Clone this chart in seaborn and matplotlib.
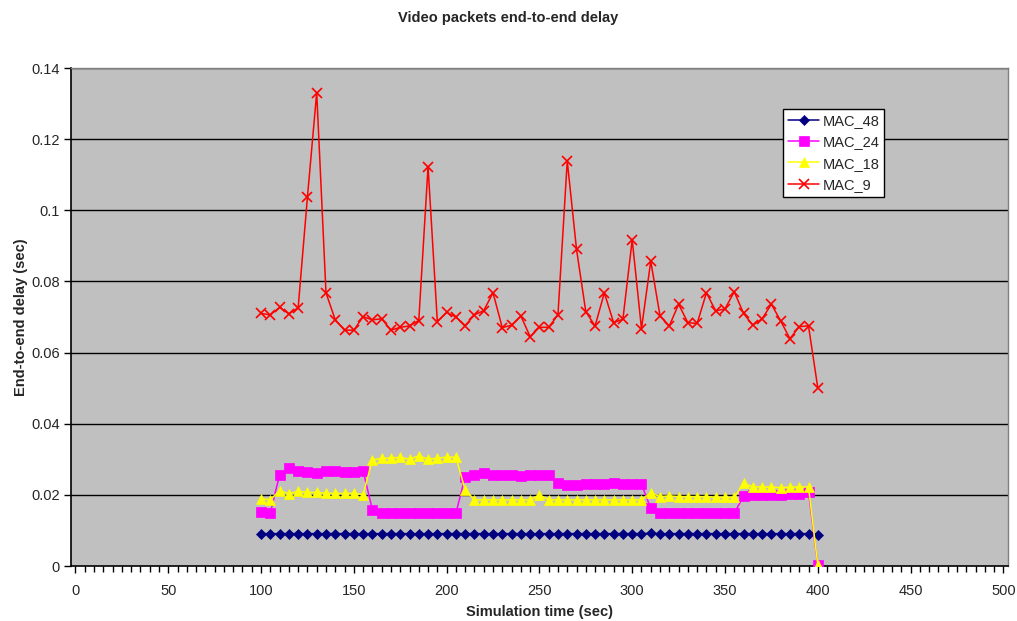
import numpy as np
import pandas as pd
import matplotlib
matplotlib.use("Agg")
import matplotlib.pyplot as plt
import seaborn as sns
from matplotlib.ticker import MultipleLocator

time = list(range(100, 401, 5))

mac_48 = [0.0091] * 42 + [0.0092] + [0.0091] * 17 + [0.0088]
mac_48 = mac_48[:61]

mac_24 = [0.0152, 0.0149, 0.0257, 0.0276, 0.0268, 0.0265, 0.0261, 0.0268, 0.0268, 0.0265,
          0.0265, 0.0268, 0.0158, 0.0148, 0.0148, 0.0148, 0.0148, 0.0148, 0.0148, 0.0148,
          0.0148, 0.0148, 0.0251, 0.0256, 0.0261, 0.0256, 0.0256, 0.0256, 0.0254, 0.0256,
          0.0256, 0.0256, 0.0232, 0.0228, 0.0228, 0.0230, 0.0230, 0.0230, 0.0232, 0.0230,
          0.0230, 0.0230, 0.0162, 0.0148, 0.0148, 0.0148, 0.0148, 0.0148, 0.0148, 0.0148,
          0.0148, 0.0148, 0.0197, 0.0200, 0.0200, 0.0199, 0.0200, 0.0202, 0.0202, 0.0209,
          0.0003]

mac_18 = [0.0189, 0.0186, 0.0212, 0.0203, 0.0210, 0.0207, 0.0207, 0.0204, 0.0204, 0.0204,
          0.0204, 0.0201, 0.0298, 0.0303, 0.0303, 0.0306, 0.0300, 0.0310, 0.0300, 0.0303,
          0.0306, 0.0306, 0.0214, 0.0186, 0.0186, 0.0186, 0.0186, 0.0186, 0.0186, 0.0186,
          0.0200, 0.0186, 0.0186, 0.0186, 0.0186, 0.0186, 0.0186, 0.0186, 0.0186, 0.0186,
          0.0186, 0.0186, 0.0206, 0.0195, 0.0197, 0.0195, 0.0195, 0.0195, 0.0195, 0.0193,
          0.0193, 0.0193, 0.0232, 0.0223, 0.0222, 0.0222, 0.0220, 0.0222, 0.0222, 0.0222,
          0.0003]

mac_9 = [0.0710, 0.0706, 0.0727, 0.0709, 0.0726, 0.1037, 0.1331, 0.0768, 0.0692, 0.0663,
         0.0663, 0.0701, 0.0692, 0.0695, 0.0663, 0.0671, 0.0675, 0.0690, 0.1123, 0.0687,
         0.0713, 0.0700, 0.0676, 0.0706, 0.0718, 0.0768, 0.0670, 0.0677, 0.0703, 0.0645,
         0.0671, 0.0671, 0.0706, 0.1139, 0.0890, 0.0715, 0.0675, 0.0768, 0.0684, 0.0694,
         0.0917, 0.0667, 0.0857, 0.0703, 0.0675, 0.0736, 0.0684, 0.0682, 0.0768, 0.0717,
         0.0723, 0.0771, 0.0710, 0.0677, 0.0695, 0.0736, 0.0689, 0.0639, 0.0673, 0.0675,
         0.0501]

series_names = ["MAC_48", "MAC_24", "MAC_18", "MAC_9"]
series_values = [mac_48, mac_24, mac_18, mac_9]

x_ticks = list(range(0, 501, 50))
y_ticks = [0, 0.02, 0.04, 0.06, 0.08, 0.1, 0.12, 0.14]
y_ticklabels = ["0", "0.02", "0.04", "0.06", "0.08", "0.1", "0.12", "0.14"]

sns.set_style("white")
plt.rcParams['font.family'] = ['Liberation Sans', 'DejaVu Sans']

fig = plt.figure(figsize=(10.17, 6.21), dpi=100)
ax = fig.add_axes([71/1017, 1 - 566/621, 937/1017, 498/621])
ax.set_facecolor("#C0C0C0")

styles = {
    "MAC_48": dict(color="#000080", marker="D", markersize=5.5, mec="#000080", mew=0.5),
    "MAC_24": dict(color="#FF00FF", marker="s", markersize=7, mec="#FF00FF", mew=0.5),
    "MAC_18": dict(color="#FFFF00", marker="^", markersize=7.5, mec="#FFFF00", mew=0.5),
    "MAC_9": dict(color="#FF0000", marker="x", markersize=7, mec="#FF0000", mew=1.2),
}

for y in y_ticks[1:]:
    ax.axhline(y, color="black", lw=1.0, zorder=1)

for name, vals in zip(series_names, series_values):
    df = pd.DataFrame({"time": time, "delay": vals})
    st = styles[name]
    sns.lineplot(data=df, x="time", y="delay", ax=ax, label=name, color=st["color"],
                 marker=st["marker"], markersize=st["markersize"], markeredgecolor=st["mec"],
                 markeredgewidth=st["mew"], linewidth=1.1, zorder=3)

ax.set_xlim(-2.4, 502.5)
ax.set_ylim(0, 0.14)
ax.set_xticks(x_ticks)
ax.set_xticklabels([str(t) for t in x_ticks])
ax.xaxis.set_minor_locator(MultipleLocator(5))
ax.set_yticks(y_ticks)
ax.set_yticklabels(y_ticklabels)
ax.tick_params(axis="both", which="major", direction="out", length=5, width=1,
               color="black", labelsize=10.5, pad=3, bottom=True, left=True)
ax.tick_params(axis="x", which="minor", direction="out", length=4, width=1,
               color="black", bottom=True)
ax.tick_params(axis="x", which="major", pad=8)

for side in ["left", "bottom"]:
    ax.spines[side].set_color("black")
    ax.spines[side].set_linewidth(1.2)
for side in ["top", "right"]:
    ax.spines[side].set_color("#808080")
    ax.spines[side].set_linewidth(1.0)

ax.set_xlabel("Simulation time (sec)", fontsize=10.5, fontweight="bold", labelpad=5)
ax.set_ylabel("End-to-end delay (sec)", fontsize=10.5, fontweight="bold", labelpad=2)
fig.text(0.5, 1 - 18/621, "Video packets end-to-end delay", ha="center", va="center",
         fontsize=10.5, fontweight="bold")

leg = ax.legend(loc="upper left", bbox_to_anchor=(0.76, 0.918), frameon=True,
                fancybox=False, edgecolor="black", facecolor="white", framealpha=1,
                fontsize=10.5, handlelength=2.1, handletextpad=0.25, borderpad=0.35,
                labelspacing=0.5, borderaxespad=0)
leg.get_frame().set_linewidth(1.0)

fig.savefig("out.png", dpi=100)
